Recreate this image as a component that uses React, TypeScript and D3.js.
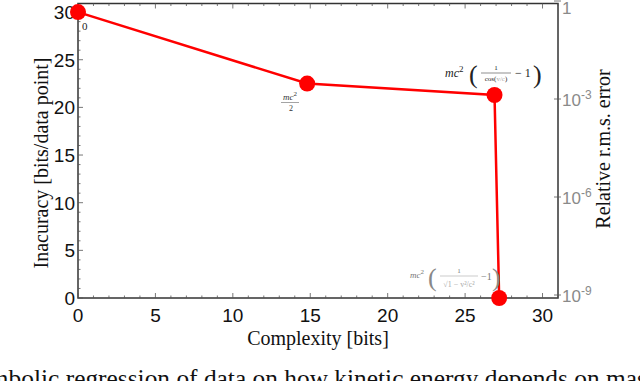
import React from "react";
import * as d3 from "d3";

const complexity = [0, 14.8, 26.9, 27.2];
const inaccuracy = [30, 22.5, 21.3, 0];
const xTicks = [0, 5, 10, 15, 20, 25, 30];
const yTicks = [0, 5, 10, 15, 20, 25, 30];
const errExponents = [0, -3, -6, -9];

const W = 640, H = 381;
const L = 78, R = 558, T = 3.5, B = 298;

export default function App() {
  const x = d3.scaleLinear().domain([0, 31]).range([L, R]);
  const y = d3.scaleLinear().domain([0, 30.9]).range([B, T]);
  const yErr = d3.scaleLinear().domain([-9, 0]).range([295, 1]);
  const line = d3.line<number>().x((d, i) => x(complexity[i])).y((d, i) => y(inaccuracy[i]));
  const minorX = d3.range(0, 32, 1);
  const minorY = d3.range(0, 31, 1);
  const sans = "Liberation Sans, Arial, sans-serif";
  const serif = "Liberation Serif, Times New Roman, serif";
  const mathStyle = { fontFamily: serif, fontStyle: "italic" as const };
  return (
    <svg width={W} height={H} style={{ position: "absolute", left: 0, top: 0, background: "#fff" }}>
      <rect x={L} y={T} width={R - L} height={B - T} fill="none" stroke="#333" strokeWidth={1.5} />
      {minorX.map((v) => (
        <g key={"mx" + v} stroke="#555" strokeWidth={0.8}>
          <line x1={x(v)} x2={x(v)} y1={B} y2={B - (v % 5 === 0 ? 5 : 2.5)} />
          <line x1={x(v)} x2={x(v)} y1={T} y2={T + (v % 5 === 0 ? 5 : 2.5)} />
        </g>
      ))}
      {minorY.map((v) => (
        <line key={"my" + v} x1={L} x2={L + (v % 5 === 0 ? 5 : 2.5)} y1={y(v)} y2={y(v)} stroke="#555" strokeWidth={0.8} />
      ))}
      {errExponents.map((e) => (
        <line key={"re" + e} x1={R - 4} x2={R + 3} y1={yErr(e)} y2={yErr(e)} stroke="#555" strokeWidth={0.8} />
      ))}
      {xTicks.map((v) => (
        <text key={"xt" + v} x={x(v)} y={322} textAnchor="middle" fontFamily={sans} fontSize={19} fill="#111">{v}</text>
      ))}
      {yTicks.map((v) => (
        <text key={"yt" + v} x={75} y={y(v) + 7} textAnchor="end" fontFamily={sans} fontSize={19} fill="#111">{v}</text>
      ))}
      {errExponents.map((e) => (
        <text key={"rt" + e} x={562} y={Math.max(yErr(e) + 7, 14)} fontFamily={sans} fontSize={17} fill="#8a8a8a">
          {e === 0 ? "1" : "10"}
          {e !== 0 && <tspan dy={-7} fontSize={12}>{String(e)}</tspan>}
        </text>
      ))}
      <text x={(L + R) / 2} y={345} textAnchor="middle" fontFamily={serif} fontSize={20} fill="#111">Complexity [bits]</text>
      <text transform={`translate(48,163) rotate(-90)`} textAnchor="middle" fontFamily={serif} fontSize={20} fill="#111">Inacuracy [bits/data point]</text>
      <text transform={`translate(610,149) rotate(-90)`} textAnchor="middle" fontFamily={serif} fontSize={20} fill="#111">Relative r.m.s. error</text>
      <path d={line(inaccuracy) || ""} fill="none" stroke="#ff0000" strokeWidth={2.5} />
      {complexity.map((c, i) => (
        <circle key={"p" + i} cx={x(c)} cy={y(inaccuracy[i])} r={8} fill="#ff0000" />
      ))}
      {/* formula labels */}
      <text x={82} y={30} fontFamily={serif} fontSize={11} fill="#222">0</text>
      <g fill="#333" {...mathStyle}>
        <text x={290} y={100} textAnchor="middle" fontSize={9}>mc<tspan dy={-4} fontSize={7} fontStyle="normal">2</tspan></text>
        <line x1={281} x2={299} y1={102.5} y2={102.5} stroke="#666" strokeWidth={0.6} />
        <text x={291} y={111} textAnchor="middle" fontSize={8} fontStyle="normal">2</text>
      </g>
      <g fill="#222" {...mathStyle}>
        <text x={445} y={77} fontSize={12}>mc<tspan dy={-5} fontSize={9} fontStyle="normal">2</tspan></text>
        <text x={469} y={83} fontSize={26} fontStyle="normal" fontWeight={200}>(</text>
        <text x={496} y={70} fontSize={7} textAnchor="middle" fontStyle="normal">1</text>
        <line x1={481} x2={511} y1={73} y2={73} stroke="#444" strokeWidth={0.6} />
        <text x={496} y={81} fontSize={7} textAnchor="middle" fontStyle="normal">cos(<tspan fill="#aaa">v/c</tspan>)</text>
        <text x={515} y={77} fontSize={12} fontStyle="normal">− 1</text>
        <text x={533} y={83} fontSize={26} fontStyle="normal" fontWeight={200}>)</text>
      </g>
      <g fill="#777" {...mathStyle}>
        <text x={410} y={278} fontSize={9}>mc<tspan dy={-4} fontSize={7} fontStyle="normal">2</tspan></text>
        <text x={428} y={286} fontSize={26} fontStyle="normal" fontWeight={200} fill="#888">(</text>
        <text x={459} y={273} fontSize={7} textAnchor="middle" fontStyle="normal">1</text>
        <line x1={440} x2={478} y1={276} y2={276} stroke="#aaa" strokeWidth={0.6} />
        <text x={459} y={287} fontSize={8} textAnchor="middle" fontStyle="normal" fill="#aaa">√1 − v²/c²</text>
        <text x={481} y={280} fontSize={10} fontStyle="normal">−1</text>
        <text x={492} y={286} fontSize={26} fontStyle="normal" fontWeight={200} fill="#888">)</text>
      </g>
      <text x={-38} y={387} fontFamily={serif} fontSize={25.4} fill="#111">Symbolic regression of data on how kinetic energy depends on mass</text>
    </svg>
  );
}
